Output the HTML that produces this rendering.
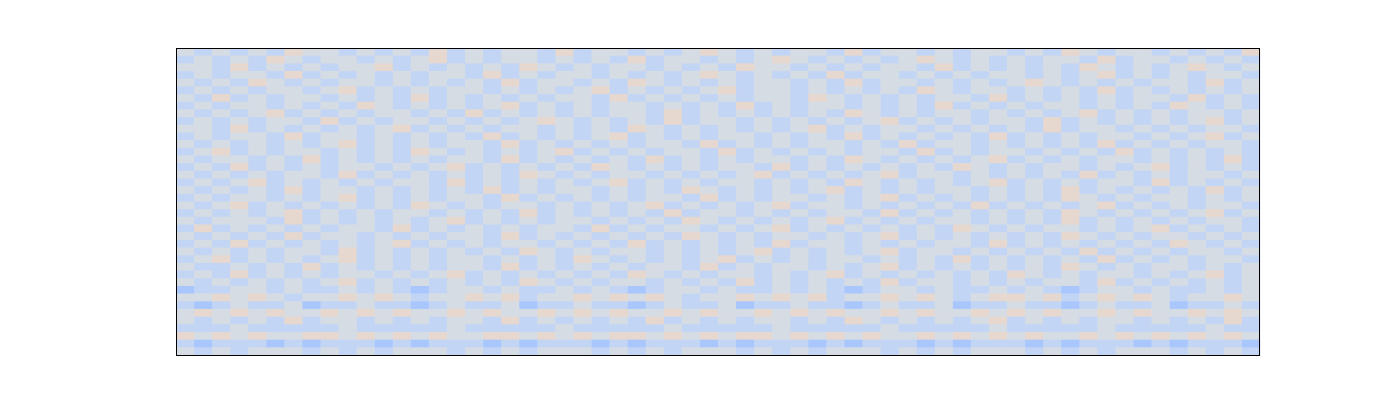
<!DOCTYPE html>
<html><head><meta charset="utf-8"><style>
html,body{margin:0;padding:0;background:#fff;width:1400px;height:400px;overflow:hidden}
</style></head><body>
<svg id="chart" width="1400" height="400" xmlns="http://www.w3.org/2000/svg">
<g id="cells"></g>
<rect x="176.5" y="48.5" width="1083" height="307" fill="none" stroke="#000" stroke-width="1"/>
</svg>
<script>
const rowsData = [
"434343544343435343443534434345434344353443434434354344343435",
"343435434434345343443434353443434543434345434343443534434343",
"443534343445343434354343443434354434343443534343435434345434",
"343443534343434435343443434345434343534434343443434534343443",
"434354343443434343534434354343434434353443434345434343443534",
"343434434534343443434345343434534434343435434434343534343434",
"435343443434353434343443534343434435434343443534343434435343",
"343443434354343434534343443434353434434343534343443434354343",
"434345343434434353434343443534343434354343443434345343434434",
"343434435343443434345434343534434343434534343443534343434534",
"443534343434534343443434354343434345343443434343534434343443",
"343443534434343435343434534343443434353434343534343443434534",
"434343434534343443534343434435343434434353443434343534343443",
"345343443434354343434534343443534343434435343443434353434343",
"434434353434343443534343435343434434354343434534343443434353",
"343534343443434534343435434343443534343434354343443434534343",
"434343443534343434354343443434345343434534434343435343434434",
"343453434343443534343434534343443434354343434534343443534343",
"434343534434343435343443434354343434534343443434353434343534",
"343443434534343443534343434435343443434534343434354343443434",
"434534343434354343443434345343434534434343435343434534343443",
"343434534343443434353434343534434343443534343434354343434534",
"434443534343434534343443434354343434534343443434353434343443",
"353434343443534343434435343443434534343434354343443434534343",
"434343534434343443534343434354343443434534343434354343443434",
"343534343434534343443434353434343534434343443534343434354343",
"434343443534343434354343443434345343434534434343435343434434",
"345343434534343443434354343434534343443434353434343534343443",
"433434353434343443534343434435343443434534343434354343443434",
"343534343443434534343434354343443434534343434354343443434534",
"434343434534343434354343443434353434343534434343443534343434",
"233443433434323443433434323443433434323443433434323443433434",
"445454344545434454534454545434454545344545434554534545434454",
"323433423343323433423343323433423343323433423343323433423343",
"454545445454544545445454544545445454544545445454544545445454",
"434343534434343443534343435343434434354343434534343443434353",
"333433333433333433333433333433333433333433333433333433333433",
"545454455454545445545454554545455454545445454545445454545454",
"323332323332323332323332323332323332323332323332323332323332",
"434344434343444343434443434344434343444343434443434344434343"
];
const colorLevels = ["#3b4cc0","#7396f5","#aac7fd","#c3d5f4","#d6dce4","#e6d7cf","#f4c5ad","#f7a889","#e26952","#b40426"];
const x0=176, y0=48, W=1084, H=307;
function xScale(c,n){return x0 + c*W/n;}
function yScale(r,n){return y0 + r*H/n;}
const g=document.getElementById('cells');
const nR=rowsData.length;
rowsData.forEach((row,r)=>{
  const nC=row.length;
  for(let c=0;c<nC;c++){
    const v=+row[c];
    const rect=document.createElementNS('http://www.w3.org/2000/svg','rect');
    
    
    const xa=xScale(c,nC), xb=xScale(c+1,nC), ya=yScale(r,nR), yb=yScale(r+1,nR);
    rect.setAttribute('x',xa);rect.setAttribute('y',ya);
    rect.setAttribute('width',xb-xa+0.3);rect.setAttribute('height',yb-ya+0.3);
    rect.setAttribute('fill',colorLevels[v]);
    g.appendChild(rect);
  }
});
</script>
</body></html>
